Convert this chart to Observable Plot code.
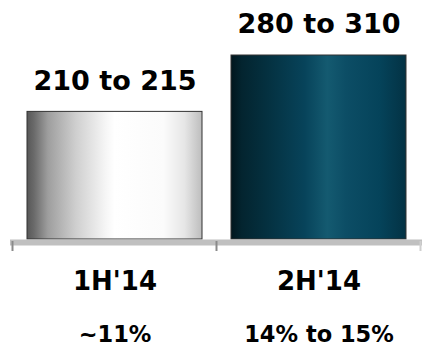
<!DOCTYPE html>
<html>
<head>
<meta charset="utf-8">
<script src="https://cdn.jsdelivr.net/npm/d3@7"></script>
<script src="https://cdn.jsdelivr.net/npm/@observablehq/plot@0.6"></script>
<style>
  html, body { margin: 0; padding: 0; background: #fff; }
  #chart { width: 422px; height: 351px; }
</style>
</head>
<body>
<svg width="0" height="0" style="position:absolute">
  <defs>
    <linearGradient id="gradWhite" x1="0" x2="1" y1="0" y2="0">
      <stop offset="0" stop-color="#575757"/>
      <stop offset="0.04" stop-color="#6a6a6a"/>
      <stop offset="0.12" stop-color="#9e9e9e"/>
      <stop offset="0.28" stop-color="#cfcfcf"/>
      <stop offset="0.45" stop-color="#f6f6f6"/>
      <stop offset="0.5" stop-color="#ffffff"/>
      <stop offset="0.78" stop-color="#fbfbfb"/>
      <stop offset="0.9" stop-color="#e6e6e6"/>
      <stop offset="1" stop-color="#bdbdbd"/>
    </linearGradient>
    <linearGradient id="gradTeal" x1="0" x2="1" y1="0" y2="0">
      <stop offset="0" stop-color="#01161d"/>
      <stop offset="0.06" stop-color="#03242f"/>
      <stop offset="0.2" stop-color="#04303f"/>
      <stop offset="0.42" stop-color="#07435a"/>
      <stop offset="0.55" stop-color="#145a70"/>
      <stop offset="0.66" stop-color="#0c4d65"/>
      <stop offset="0.85" stop-color="#05435a"/>
      <stop offset="1" stop-color="#033244"/>
    </linearGradient>
  </defs>
</svg>
<div id="chart"></div>
<script>
const categories = ["1H'14", "2H'14"];
const values = [215, 310];
const rangeLabels = ["210 to 215", "280 to 310"];
const growthLabels = ["~11%", "14% to 15%"];
const fills = ["url(#gradWhite)", "url(#gradTeal)"];

const data = categories.map((c, i) => ({cat: c, value: values[i], range: rangeLabels[i], growth: growthLabels[i]}));

function boundaryTicks(index, scales, values, dimensions) {
  const x = scales.x;
  const bw = x.bandwidth ? x.bandwidth() : 0;
  const p0 = x(categories[0]), p1 = x(categories[1]);
  const step = p1 - p0;
  const gap = (step - bw) / 2;
  const y0 = scales.y(0);
  const g = d3.create("svg:g");
  const xs = [p0 - gap, p1 - gap, p1 + bw + gap];
  const cols = ["#8a8a8a", "#8a8a8a", "#cfcfcf"];
  xs.forEach((xx, i) => {
    g.append("line").attr("x1", xx).attr("x2", xx).attr("y1", y0 + 2).attr("y2", y0 + 12)
      .attr("stroke", cols[i]).attr("stroke-width", 2);
  });
  return g.node();
}

const plot = Plot.plot({
  width: 422,
  height: 351,
  marginLeft: 12,
  marginRight: 1,
  marginTop: 55,
  marginBottom: 112,
  style: {fontFamily: "'DejaVu Sans', sans-serif", overflow: "visible", background: "#fff"},
  x: {domain: categories, paddingInner: 0.14, paddingOuter: 0.07, axis: null},
  y: {domain: [0, 310], axis: null},
  color: {type: "ordinal", domain: categories, range: fills},
  marks: [
    Plot.barY(data, {x: "cat", y: "value", fill: "cat", stroke: "#333", strokeWidth: 1}),
    Plot.ruleY([0], {stroke: "#c0c0c0", strokeWidth: 6, dy: 3, insetLeft: -2, insetRight: -2}),
    boundaryTicks,
    Plot.text(data, {x: "cat", y: "value", text: "range", dy: -31, fontSize: 27, fontWeight: "bold", fill: "#000"}),
    Plot.text(data, {x: "cat", y: () => 0, text: "cat", dy: 42, fontSize: 26, fontWeight: "bold", fill: "#000"}),
    Plot.text(data, {x: "cat", y: () => 0, text: "growth", dy: 95, fontSize: 22.5, fontWeight: "bold", fill: "#000"})
  ]
});
document.getElementById("chart").appendChild(plot);
</script>
</body>
</html>
